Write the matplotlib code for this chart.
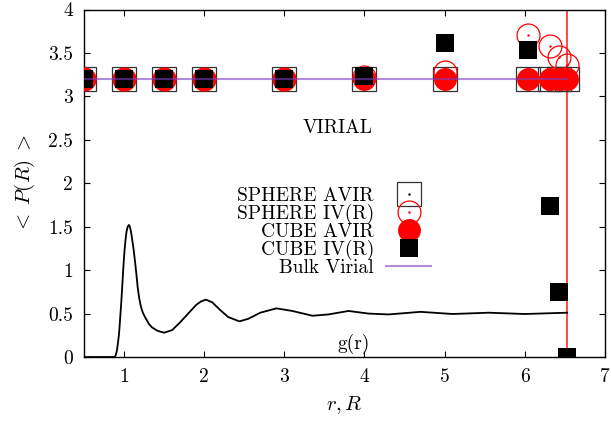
import matplotlib
matplotlib.use("Agg")
import matplotlib.pyplot as plt
from matplotlib.ticker import FormatStrFormatter, MultipleLocator

plt.rcParams["font.family"] = "serif"
plt.rcParams["font.serif"] = ["cmr10", "DejaVu Serif"]
plt.rcParams["mathtext.fontset"] = "cm"
plt.rcParams["axes.formatter.use_mathtext"] = True

# sampling radii R for the pressure estimators
R = [0.5, 1.0, 1.5, 2.0, 3.0, 4.0, 5.0, 6.04, 6.31, 6.43, 6.53]

sphere_avir = [3.20, 3.20, 3.20, 3.20, 3.20, 3.20, 3.20, 3.20, 3.20, 3.20, 3.20]
sphere_ivr = [3.20, 3.20, 3.20, 3.20, 3.20, 3.22, 3.28, 3.71, 3.58, 3.45, 3.36]
cube_avir = [3.20, 3.20, 3.20, 3.20, 3.20, 3.20, 3.20, 3.20, 3.20, 3.20, 3.20]
cube_ivr = [3.20, 3.20, 3.20, 3.20, 3.20, 3.23, 3.61, 3.53, 1.74, 0.75, 0.0]

bulk_virial = 3.20
r_cut = 6.53

# radial distribution function
r = [0.5, 0.88, 0.895, 0.91, 0.923, 0.935, 0.944, 0.955, 0.965, 0.975, 0.985,
     0.995, 1.006, 1.018, 1.03, 1.045, 1.06, 1.072, 1.085, 1.10, 1.12,
     1.14, 1.155, 1.17, 1.19, 1.21, 1.23, 1.255, 1.28, 1.31, 1.35, 1.42,
     1.5, 1.6, 1.7, 1.8, 1.9, 1.96, 2.02, 2.1, 2.2, 2.3, 2.44, 2.55, 2.7,
     2.9, 3.1, 3.35, 3.55, 3.8, 4.05, 4.3, 4.7, 5.1, 5.55, 6.0, 6.53]
g = [0.0, 0.0, 0.02, 0.07, 0.157, 0.25, 0.35, 0.50, 0.63, 0.78, 0.94,
     1.09, 1.23, 1.35, 1.44, 1.50, 1.52, 1.50, 1.45, 1.36, 1.23,
     1.07, 0.94, 0.80, 0.67, 0.58, 0.52, 0.47, 0.43, 0.38, 0.34, 0.30,
     0.28, 0.31, 0.40, 0.50, 0.60, 0.64, 0.66, 0.63, 0.54, 0.46, 0.41, 0.44, 0.51,
     0.56, 0.53, 0.475, 0.49, 0.53, 0.50, 0.49, 0.52, 0.495, 0.51, 0.495, 0.51]

fig = plt.figure(figsize=(6.11, 4.21), dpi=100)
ax = fig.add_axes([0.1375, 0.152, 0.8525, 0.8254])

ax.axvline(r_cut, color="#ff2a2a", lw=1.2, zorder=1)

sq, = ax.plot(R, sphere_avir, ls="none", marker="s", ms=17, mfc="none",
              mec="#333333", mew=0.9, zorder=2)
sq_dot, = ax.plot(R, sphere_avir, ls="none", marker=".", ms=1.5, color="black", zorder=2)
oc, = ax.plot(R, sphere_ivr, ls="none", marker="o", ms=16.5, mfc="none",
              mec="red", mew=0.9, zorder=3)
oc_dot, = ax.plot(R, sphere_ivr, ls="none", marker=".", ms=1.5, color="red", zorder=3)
fc, = ax.plot(R, cube_avir, ls="none", marker="o", ms=16.5, mfc="red",
              mec="red", mew=0, zorder=4)
fs, = ax.plot(R, cube_ivr, ls="none", marker="s", ms=13, mfc="black",
              mec="black", mew=0, zorder=5)
bv, = ax.plot([R[0], r_cut], [bulk_virial, bulk_virial], color="#7f3fbf",
              alpha=0.6, lw=1.5, zorder=6)

ax.plot(r, g, color="black", lw=1.3, zorder=6)

ax.text(3.67, 2.64, "VIRIAL", fontsize=14, ha="center", va="center")
ax.text(3.86, 0.15, "g(r)", fontsize=14, ha="center", va="center")

leg = ax.legend([(sq, sq_dot), (oc, oc_dot), fc, fs, bv],
                ["SPHERE AVIR", "SPHERE IV(R)", "CUBE AVIR", "CUBE IV(R)", "Bulk Virial"],
                markerfirst=False, frameon=False, fontsize=14,
                loc="upper right", bbox_to_anchor=(0.667, 0.49),
                handlelength=2.35, handletextpad=0.6, labelspacing=-0.05,
                borderpad=0, borderaxespad=0)

ax.set_xlim(0.5, 7)
ax.set_ylim(0, 4)
ax.xaxis.set_major_locator(MultipleLocator(1))
ax.yaxis.set_major_locator(MultipleLocator(0.5))
ax.xaxis.set_major_formatter(FormatStrFormatter("%g"))
ax.yaxis.set_major_formatter(FormatStrFormatter("%g"))
ax.tick_params(direction="in", length=4, width=0.8, top=True, right=True,
               labelsize=14, pad=8)
for s in ax.spines.values():
    s.set_linewidth(1.0)

ax.set_xlabel("$r, R$", fontsize=15, labelpad=6)
ax.set_ylabel(r"$<\;P(R)\;>$", fontsize=15, labelpad=8)

fig.savefig("out.png", dpi=100)
